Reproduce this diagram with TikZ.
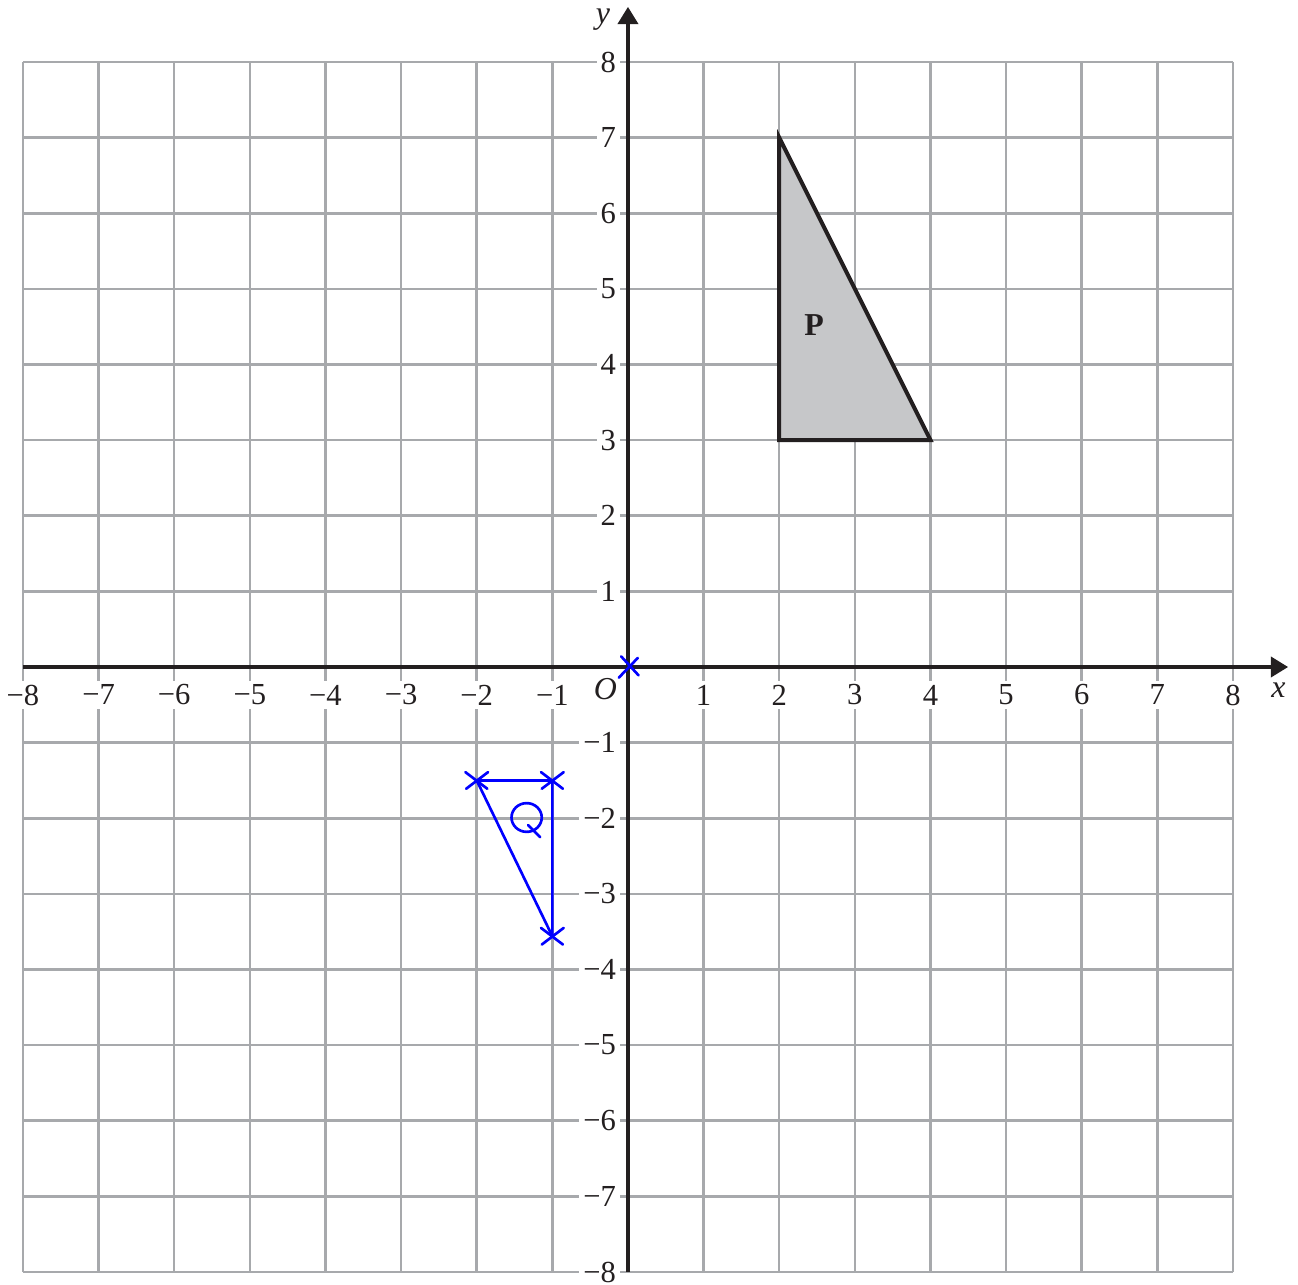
\documentclass[tikz,border=0pt]{standalone}
\usepackage{fontspec}
\setmainfont{Liberation Serif}
\usetikzlibrary{arrows.meta}
\definecolor{gridgray}{HTML}{A7A9AC}
\definecolor{axisblack}{HTML}{231F20}
\definecolor{pfill}{HTML}{C6C7C9}
\tikzset{
  gridline/.style={gridgray, line width=0.95pt},
  axisline/.style={axisblack, line width=1.5pt, -{Triangle[length=6.5pt,width=7.5pt]}},
  xlab/.style={fill=white, inner sep=1.5pt, font=\fontsize{11.5}{12}\selectfont, text=axisblack},
  ylab/.style={fill=white, inner sep=1.5pt, anchor=east, font=\fontsize{11.5}{12}\selectfont, text=axisblack},
  blueline/.style={blue, line width=1pt, line cap=round},
  crossmark/.style={blue, line width=1pt, line cap=round}
}
\begin{document}
\begin{tikzpicture}[x=1cm,y=1cm]
\useasboundingbox (-8.304,-8.17) rectangle (8.86,8.82);
% grid
\foreach \i in {-8,...,8} {
  \draw[gridline] (\i,-8) -- (\i,8);
  \draw[gridline] (-8,\i) -- (8,\i);
}
% shape P
\coordinate (P1) at (2,3);
\coordinate (P2) at (2,7);
\coordinate (P3) at (4,3);
\filldraw[fill=pfill, draw=axisblack, line width=1.5pt, line join=miter] (P1) -- (P2) -- (P3) -- cycle;
\node[font=\bfseries\fontsize{12}{13}\selectfont, text=axisblack] (labP) at (2.46,4.52) {P};
% labels
\foreach \i in {-8,...,-1} {
  \node[xlab] (xl\i) at (\i,-0.37) {−\the\numexpr-\i\relax};
  \node[ylab] (yl\i) at (-0.1,\i) {−\the\numexpr-\i\relax};
}
\foreach \i in {1,...,8} {
  \node[xlab] (xl\i) at (\i,-0.37) {\i};
  \node[ylab] (yl\i) at (-0.1,\i) {\i};
}
% axes
\coordinate (xs) at (-8,0);
\coordinate (xe) at (8.73,0);
\coordinate (ys) at (0,-8);
\coordinate (ye) at (0,8.73);
\draw[axisline] (xs) -- (xe);
\draw[axisline] (ys) -- (ye);
\node[font=\itshape\fontsize{12}{13}\selectfont, text=axisblack] (labx) at (8.6,-0.3) {x};
\node[font=\itshape\fontsize{12}{13}\selectfont, text=axisblack, inner sep=1pt] (laby) at (-0.33,8.56) {y};
\node[font=\itshape\fontsize{12}{13}\selectfont, text=axisblack] (labO) at (-0.3,-0.29) {O};
% triangle Q
\coordinate (Q1) at (-2,-1.5);
\coordinate (Q2) at (-1,-1.5);
\coordinate (Q3) at (-1,-3.56);
\draw[blueline, line join=round] (Q1) -- (Q2) -- (Q3) -- cycle;
\foreach \c in {Q1,Q2,Q3} {
  \draw[crossmark] ([shift={(-0.15,0.11)}]\c) -- ([shift={(0.14,-0.11)}]\c);
  \draw[crossmark] ([shift={(-0.14,-0.11)}]\c) -- ([shift={(0.15,0.11)}]\c);
}
\coordinate (O) at (0,0);
\draw[crossmark] ([shift={(-0.09,0.14)}]O) -- ([shift={(0.14,-0.11)}]O);
\draw[crossmark] ([shift={(-0.12,-0.14)}]O) -- ([shift={(0.13,0.12)}]O);
% handwritten Q
\coordinate (qc) at (-1.34,-1.99);
\draw[crossmark] (qc) circle[x radius=0.2, y radius=0.19];
\draw[crossmark] (-1.32,-2.09) -- (-1.16,-2.25);
\end{tikzpicture}
\end{document}
